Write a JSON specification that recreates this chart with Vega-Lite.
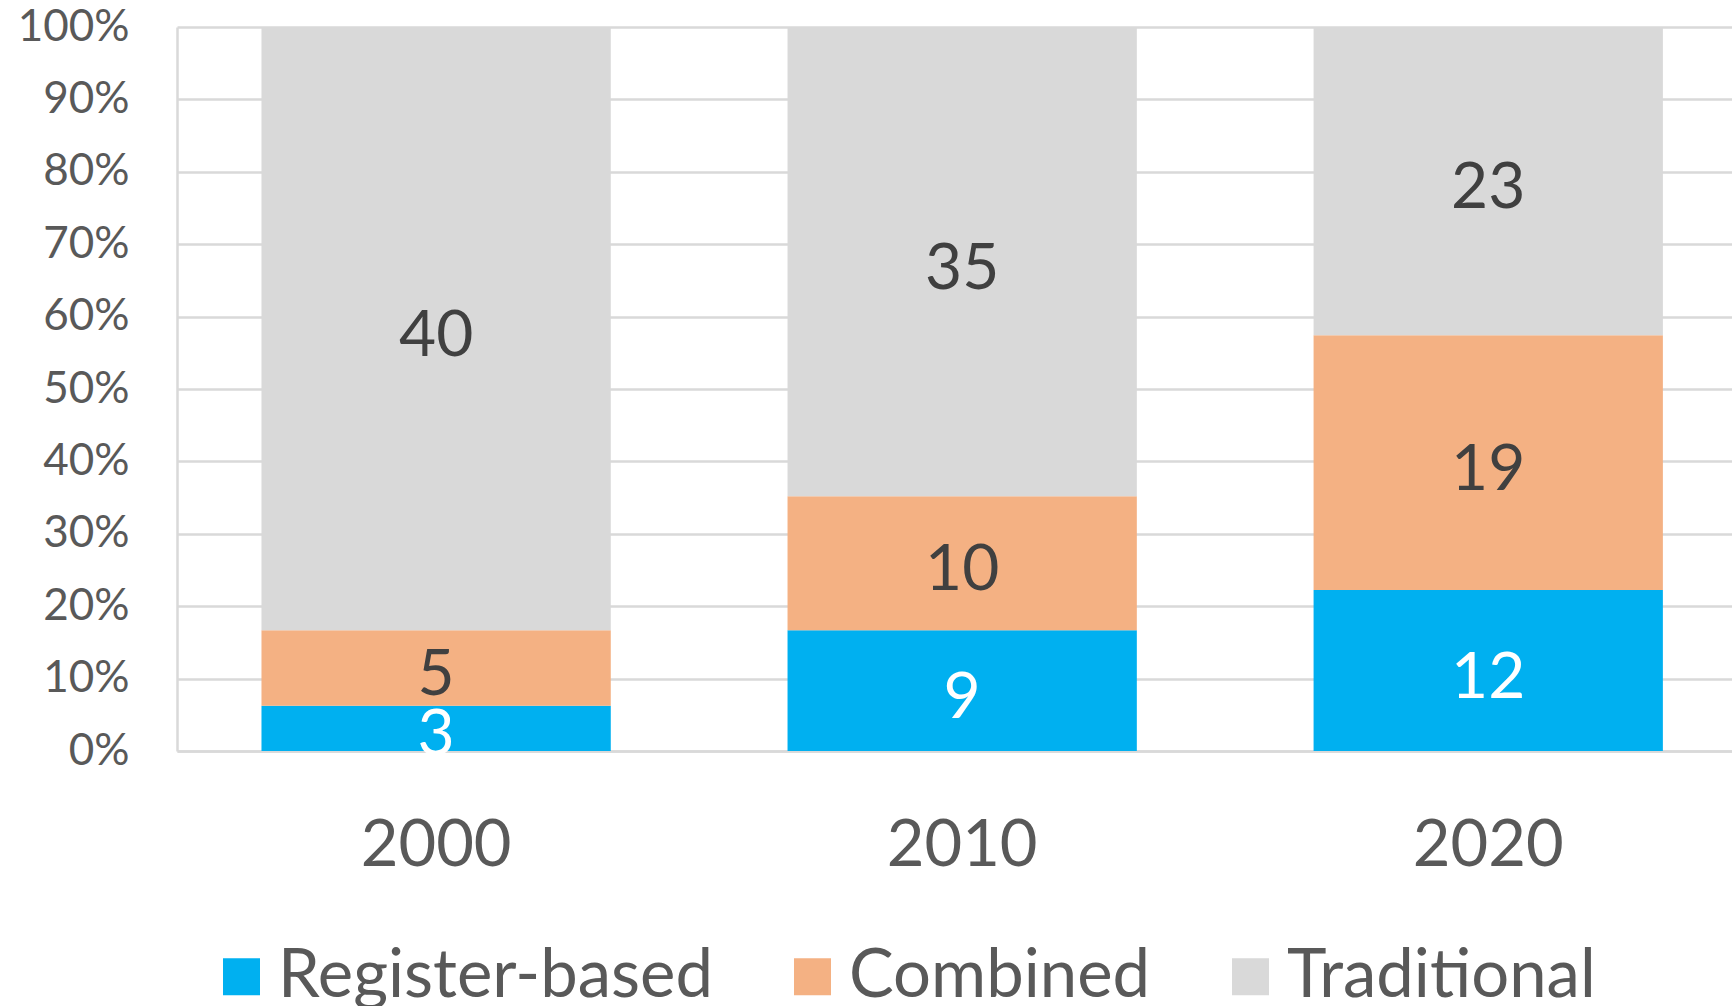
{
  "$schema": "https://vega.github.io/schema/vega-lite/v6.json",
  "width": 1555,
  "height": 724,
  "autosize": {"type": "none"},
  "padding": {"left": 177, "top": 27, "right": 0, "bottom": 255},
  "background": "white",
  "config": {
    "view": {"stroke": null},
    "font": "Lato"
  },
  "data": {
    "values": [
      {"year": "2000", "type": "Register-based", "value": 3},
      {"year": "2000", "type": "Combined", "value": 5},
      {"year": "2000", "type": "Traditional", "value": 40},
      {"year": "2010", "type": "Register-based", "value": 9},
      {"year": "2010", "type": "Combined", "value": 10},
      {"year": "2010", "type": "Traditional", "value": 35},
      {"year": "2020", "type": "Register-based", "value": 12},
      {"year": "2020", "type": "Combined", "value": 19},
      {"year": "2020", "type": "Traditional", "value": 23}
    ]
  },
  "transform": [
    {"calculate": "indexof(['Register-based','Combined','Traditional'], datum.type)", "as": "ord"},
    {"stack": "value", "groupby": ["year"], "sort": [{"field": "ord", "order": "ascending"}], "offset": "normalize", "as": ["y0", "y1"]},
    {"calculate": "(datum.y0 + datum.y1) / 2", "as": "mid"}
  ],
  "encoding": {
    "x": {
      "field": "year",
      "type": "nominal",
      "title": null,
      "scale": {"paddingInner": 0.336, "paddingOuter": 0.146, "align": 0.55},
      "axis": {
        "labelAngle": 0,
        "labelFontSize": 65,
        "labelColor": "#595959",
        "labelFont": "Lato",
        "labelPadding": 63,
        "ticks": false,
        "tickSize": 0,
        "domain": true,
        "domainColor": "#D9D9D9",
        "domainWidth": 2.5
      }
    }
  },
  "layer": [
    {
      "mark": {"type": "bar"},
      "encoding": {
        "y": {
          "field": "y0",
          "type": "quantitative",
          "title": null,
          "scale": {"domain": [0, 1], "nice": false},
          "axis": {
            "values": [0, 0.1, 0.2, 0.3, 0.4, 0.5, 0.6, 0.7, 0.8, 0.9, 1],
            "format": ".0%",
            "labelFontSize": 44,
            "labelColor": "#595959",
            "labelFont": "Lato",
            "labelPadding": 48,
            "ticks": false,
            "tickSize": 0,
            "grid": true,
            "gridColor": "#D9D9D9",
            "gridWidth": 2.5,
            "domain": true,
            "domainColor": "#D9D9D9",
            "domainWidth": 2.5
          }
        },
        "y2": {"field": "y1"},
        "color": {
          "field": "type",
          "type": "nominal",
          "scale": {
            "domain": ["Register-based", "Combined", "Traditional"],
            "range": ["#00B0F0", "#F4B183", "#D9D9D9"]
          },
          "legend": {
            "title": null,
            "orient": "none",
            "direction": "horizontal",
            "legendX": 31,
            "legendY": 916,
            "padding": 0,
            "symbolType": "square",
            "symbolSize": 1369,
            "symbolStrokeWidth": 0,
            "labelFontSize": 67,
            "labelFont": "Lato",
            "labelColor": "#595959",
            "labelOffset": 3,
            "columnPadding": 66,
            "labelLimit": 1000
          }
        }
      }
    },
    {
      "mark": {"type": "text", "fontSize": 64, "font": "Lato", "baseline": "middle", "align": "center", "dy": 8},
      "encoding": {
        "y": {"field": "mid", "type": "quantitative"},
        "text": {"field": "value", "type": "quantitative"},
        "color": {
          "condition": {"test": "datum.type === 'Register-based'", "value": "#FFFFFF"},
          "value": "#404040"
        }
      }
    }
  ]
}
